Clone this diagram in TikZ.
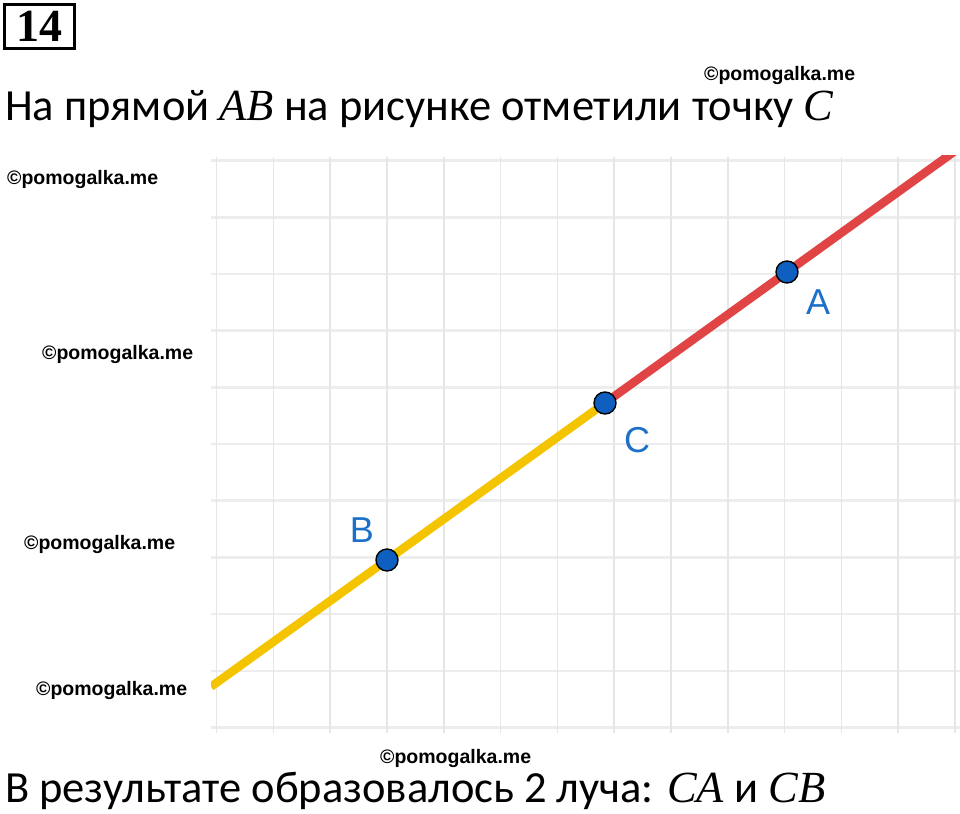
\documentclass[tikz,border=0pt]{standalone}
\usepackage{fontspec}
\usepackage{xcolor}
\setmainfont{Carlito}
\newfontfamily\arialfont{Liberation Sans}
\newfontfamily\boxfont{Liberation Serif}
\newcommand\ptname[1]{{\boxfont\itshape #1}}
\usetikzlibrary{positioning}
\definecolor{gridgray}{HTML}{E6E6E6}
\definecolor{rayyellow}{HTML}{F5C400}
\definecolor{rayred}{HTML}{E04444}
\definecolor{dotblue}{HTML}{0F5FC0}
\definecolor{letterblue}{HTML}{1C70C8}

\begin{document}
\begin{tikzpicture}[x=1pt, y=-1pt,
    gridv/.style={gridgray, line width=1.6pt},
    gridh/.style={gridgray!70, line width=2.6pt},
    ray/.style={line width=8.5pt},
    dot/.style={circle, fill=dotblue, draw=black, line width=1.4pt, inner sep=0pt, minimum size=22pt},
    dotname/.style={text=letterblue, font=\arialfont\fontsize{36}{36}\selectfont},
    wmark/.style={anchor=base west, inner sep=0pt, font=\arialfont\bfseries\fontsize{19.5}{20}\selectfont},
    bigtext/.style={anchor=base west, inner sep=0pt, font=\fontsize{44.5}{50}\selectfont}]
                                \useasboundingbox (0,0) rectangle (960,813);
                                % number of the task
                                \node[draw, line width=3.2pt, minimum width=70pt, minimum height=44pt, inner sep=0pt,
                                    font=\boxfont\bfseries\fontsize{46}{46}\selectfont] (num) at (39.5,26.5) {14};
                                \node[bigtext] (head) at (5,121) {На прямой \ptname{AB} на рисунке отметили точку \ptname{C}};
                                % squared paper
                                \draw[gridh]
                                (211,160.5) edge (960,160.5)
                                (211,217.2) edge (960,217.2)
                                (211,273.9) edge (960,273.9)
                                (211,330.6) edge (960,330.6)
                                (211,387.3) edge (960,387.3)
                                (211,444.0) edge (960,444.0)
                                (211,500.7) edge (960,500.7)
                                (211,557.4) edge (960,557.4)
                                (211,614.1) edge (960,614.1)
                                (211,670.8) edge (960,670.8)
                                (211,727.5) edge (960,727.5);
                                \draw[gridv]
                                (216.5,157) edge (216.5,733)
                                (273.3,157) edge (273.3,733)
                                (330.1,157) edge (330.1,733)
                                (386.9,157) edge (386.9,733)
                                (443.7,157) edge (443.7,733)
                                (500.5,157) edge (500.5,733)
                                (557.3,157) edge (557.3,733)
                                (614.1,157) edge (614.1,733)
                                (670.9,157) edge (670.9,733)
                                (727.7,157) edge (727.7,733)
                                (784.5,157) edge (784.5,733)
                                (841.3,157) edge (841.3,733)
                                (898.1,157) edge (898.1,733)
                                (954.9,157) edge (954.9,733);
                                % the line AB and its two rays from C
                                \coordinate (pB) at (387,560);
                                \coordinate (pC) at (605,403);
                                \coordinate (pA) at (787,272);
                                \coordinate (lowend) at (211,686.7);
                                \coordinate (highend) at (960,147.4);
                                \begin{scope}
                                \clip (211,156) rectangle (960,740);
                                \draw[ray, rayyellow] (lowend) -- (pC);
                                \draw[ray, rayred] (pC) -- (highend);
                                \end{scope}
                                \node[dot] (B) at (pB) {};
                                \node[dot] (C) at (pC) {};
                                \node[dot] (A) at (pA) {};
                                \node[dotname] (nameA) at ([shift={(31,30)}]A) {A};
                                \node[dotname] (nameC) at ([shift={(32,37)}]C) {C};
                                \node[dotname] (nameB) at ([shift={(-25,-30)}]B) {B};
                                % watermarks
                                \node[wmark] (wm1) at (704,81) {©pomogalka.me};
                                \node[wmark] (wm2) at (7,185) {©pomogalka.me};
                                \node[wmark] (wm3) at (42,359) {©pomogalka.me};
                                \node[wmark] (wm4) at (24,549) {©pomogalka.me};
                                \node[wmark] (wm5) at (36,695) {©pomogalka.me};
                                \node[wmark] (wm6) at (380,763) {©pomogalka.me};
                                \node[bigtext] (result) at (5,802) {В результате образовалось 2 луча: \ptname{CA} и \ptname{CB}};
                            \end{tikzpicture}
\end{document}
